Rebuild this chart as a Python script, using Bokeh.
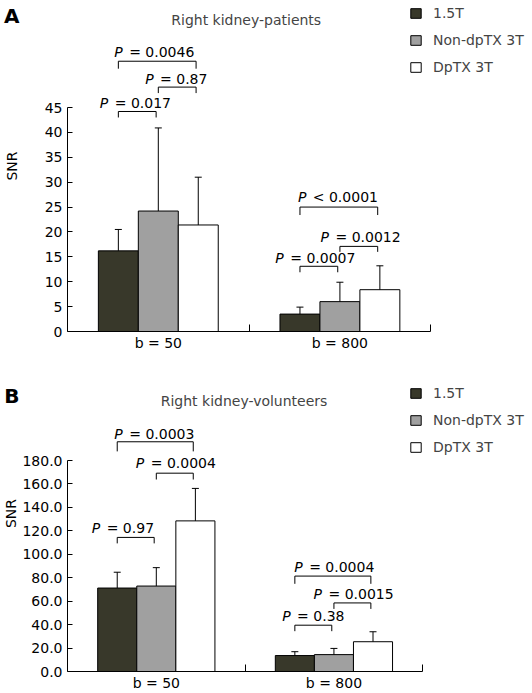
import numpy as np
from bokeh.plotting import figure
from bokeh.layouts import column
from bokeh.models import (ColumnDataSource, Whisker, TeeHead, Legend, LegendItem, Label,
                          FixedTicker, Range1d, PrintfTickFormatter, LinearAxis)
from bokeh.core.properties import value
from bokeh.embed import file_html
from bokeh.resources import INLINE

# ---------------- data ----------------
groups = ["b = 50", "b = 800"]
series = ["1.5T", "Non-dpTX 3T", "DpTX 3T"]
colors = ["#38382a", "#a0a0a0", "#ffffff"]

# Panel A: right kidney - patients (mean, SD) for b = 50 / b = 800
pat_15t = [16.2, 3.5]
pat_15t_sd = [4.3, 1.4]
pat_non = [24.2, 6.0]
pat_non_sd = [16.7, 3.9]
pat_dptx = [21.4, 8.4]
pat_dptx_sd = [9.6, 4.8]
pat_ticks = [0, 5, 10, 15, 20, 25, 30, 35, 40, 45]

# Panel B: right kidney - volunteers
vol_15t = [71.2, 13.6]
vol_15t_sd = [13.5, 3.3]
vol_non = [72.9, 14.4]
vol_non_sd = [15.7, 5.3]
vol_dptx = [128.5, 25.4]
vol_dptx_sd = [27.7, 8.5]
vol_ticks = [0, 20, 40, 60, 80, 100, 120, 140, 160, 180]

# significance brackets: text, group, from bar, to bar
pat_p_text = ["= 0.017", "= 0.87", "= 0.0046", "= 0.0007", "= 0.0012", "< 0.0001"]
pat_p_group = [0, 0, 0, 1, 1, 1]
pat_p_from = [0, 1, 0, 0, 1, 0]
pat_p_to = [1, 2, 2, 1, 2, 2]
pat_p_top = [44.2, 49.1, 54.3, 13.1, 17.1, 25.0]
pat_p_bottom = [43.0, 47.9, 52.8, 11.9, 16.0, 23.4]
pat_p_tx = [0.374, 0.599, 0.478, 1.365, 1.614, 1.489]
pat_p_ty = [46.0, 50.8, 56.2, 14.8, 18.9, 27.0]

vol_p_text = ["= 0.97", "= 0.0004", "= 0.0003", "= 0.38", "= 0.0015", "= 0.0004"]
vol_p_group = [0, 0, 0, 1, 1, 1]
vol_p_from = [0, 1, 0, 0, 1, 0]
vol_p_to = [1, 2, 2, 1, 2, 2]
vol_p_top = [114.4, 169.2, 196.0, 39.5, 58.5, 81.4]
vol_p_bottom = [109.3, 163.8, 187.8, 34.4, 53.4, 74.8]
vol_p_tx = [0.312, 0.610, 0.489, 1.384, 1.611, 1.502]
vol_p_ty = [122.3, 177.6, 203.0, 47.1, 66.4, 89.0]

FONT = "DejaVu Sans"
FS = 14
OFFS = [-0.22, 0.0, 0.22]
BAR_W = 0.22
CHAR_W = {c: 0.636 for c in "0123456789"}
CHAR_W.update({".": 0.318, " ": 0.318, "=": 0.838, "<": 0.838})
P_W = 0.603
W_FIG = 532


def make_panel(letter, title, title_x, title_y, means, sds, ticks, fmt, y_end, x_end,
               height, fb, legend_top, letter_pos, axis_std, brk):
    frame_h = height - fb
    p = figure(width=W_FIG, height=height, x_range=Range1d(0, x_end), y_range=Range1d(0, y_end),
               output_backend="svg", toolbar_location=None,
               min_border_left=66, min_border_right=0, min_border_top=0, min_border_bottom=fb)
    p.outline_line_color = None
    p.grid.visible = False
    p.background_fill_color = "white"

    centers = np.arange(len(groups)) + 0.5
    items = []
    for s in range(3):
        m = np.array(means[s], dtype=float)
        sd = np.array(sds[s], dtype=float)
        src = ColumnDataSource(dict(x=centers + OFFS[s], top=m, upper=m + sd, lower=m))
        r = p.vbar(x="x", top="top", bottom=0, width=BAR_W, source=src,
                   fill_color=colors[s], line_color="black", line_width=1)
        w = Whisker(base="x", upper="upper", lower="lower", source=src, dimension="height",
                    upper_head=TeeHead(size=7, line_color="black", line_width=1),
                    lower_head=None, line_color="black", line_width=1, level="overlay")
        p.add_layout(w)
        items.append(LegendItem(label=series[s], renderers=[r]))

    # significance brackets
    texts, g, f, t, top, bot, tx, ty = brk
    xs, ys = [], []
    for i in range(len(texts)):
        c0 = g[i] + 0.5 + OFFS[f[i]]
        c1 = g[i] + 0.5 + OFFS[t[i]] - 0.012
        xs.append([c0, c0, c1, c1])
        ys.append([bot[i], top[i], top[i], bot[i]])
    p.multi_line(xs=xs, ys=ys, line_color="black", line_width=1)

    widths = [FS * (P_W + CHAR_W[" "] + sum(CHAR_W[c] for c in r)) + 2 for r in texts]
    lsrc = ColumnDataSource(dict(x=tx, y=ty, rest=texts, P=["P"] * len(texts),
                                 po=[-w / 2 for w in widths],
                                 ro=[-w / 2 + FS * (P_W + CHAR_W[" "]) + 2 for w in widths]))
    p.text(x="x", y="y", text="P", x_offset="po", source=lsrc, text_font=value(FONT),
           text_font_style="italic", text_font_size=f"{FS}px", text_align="left",
           text_baseline="middle", text_color="black")
    p.text(x="x", y="y", text="rest", x_offset="ro", source=lsrc, text_font=value(FONT),
           text_font_size=f"{FS}px", text_align="left", text_baseline="middle",
           text_color="black")

    # chart title
    p.add_layout(Label(x=title_x, y=title_y, text=title, text_font=FONT,
                       text_font_size=f"{FS}px", text_align="center", text_baseline="middle"))

    # legend
    legend = Legend(items=items, location=(342, int(round(frame_h - legend_top - 71))),
                    glyph_width=13, glyph_height=12, label_height=17, spacing=10,
                    padding=0, margin=0, border_line_color=None, background_fill_alpha=0,
                    label_text_font=FONT, label_text_font_size=f"{FS}px", label_standoff=11)
    p.add_layout(legend)

    # x axis: labels at group centres, ticks at group boundaries
    xa = p.xaxis[0]
    xa.ticker = FixedTicker(ticks=list(centers), minor_ticks=[1.0, 2.0])
    xa.major_label_overrides = {float(c): groups[i] for i, c in enumerate(centers)}
    xa.bounds = (0, 2)
    xa.major_tick_in = 0
    xa.major_tick_out = 0
    xa.minor_tick_in = 7
    xa.minor_tick_out = 0
    xa.minor_tick_line_color = "black"
    xa.major_label_standoff = 3
    xa.major_label_text_font = FONT
    xa.major_label_text_font_size = f"{FS}px"
    xa.major_label_text_color = "black"
    xa.axis_line_color = "black"

    ya = p.yaxis[0]
    ya.ticker = FixedTicker(ticks=ticks, minor_ticks=[])
    if fmt:
        ya.formatter = PrintfTickFormatter(format=fmt)
    ya.bounds = (ticks[0], ticks[-1])
    ya.major_tick_in = 5
    ya.major_tick_out = 0
    ya.minor_tick_in = 0
    ya.minor_tick_out = 0
    ya.major_label_standoff = 5
    ya.major_label_text_font = FONT
    ya.major_label_text_font_size = f"{FS}px"
    ya.major_label_text_color = "black"
    ya.axis_label = "SNR"
    ya.axis_label_text_font = FONT
    ya.axis_label_text_font_size = f"{FS}px"
    ya.axis_label_text_font_style = "normal"
    ya.axis_label_text_color = "black"
    ya.axis_label_standoff = axis_std
    ya.axis_line_color = "black"

    # panel letter, carried by an outer left axis with a single labelled tick
    p.extra_y_ranges = {"letter": Range1d(0, 1)}
    la = LinearAxis(y_range_name="letter", ticker=FixedTicker(ticks=[letter_pos], minor_ticks=[]),
                    major_label_overrides={letter_pos: letter},
                    axis_line_color=None, major_tick_line_color=None,
                    minor_tick_line_color=None, major_tick_in=0, major_tick_out=0,
                    minor_tick_in=0, minor_tick_out=0, major_label_standoff=-19,
                    major_label_text_font=FONT, major_label_text_font_size="20px",
                    major_label_text_font_style="bold", major_label_text_color="black")
    p.add_layout(la, "left")
    return p


pA = make_panel("A", "Right kidney-patients", 0.984, 62.5,
                [pat_15t, pat_non, pat_dptx], [pat_15t_sd, pat_non_sd, pat_dptx_sd],
                pat_ticks, None, 66.5, 466 / 182, 355, 24, 4.5, 0.953, 22,
                (pat_p_text, pat_p_group, pat_p_from, pat_p_to, pat_p_top, pat_p_bottom,
                 pat_p_tx, pat_p_ty))
pB = make_panel("B", "Right kidney-volunteers", 0.994, 231.0,
                [vol_15t, vol_non, vol_dptx], [vol_15t_sd, vol_non_sd, vol_dptx_sd],
                vol_ticks, "%.1f", 269.6, 466 / 178, 338, 22, 29.5, 0.873, 0,
                (vol_p_text, vol_p_group, vol_p_from, vol_p_to, vol_p_top, vol_p_bottom,
                 vol_p_tx, vol_p_ty))

layout = column(pA, pB, spacing=0)
open("out.html", "w").write(file_html(layout, INLINE))
